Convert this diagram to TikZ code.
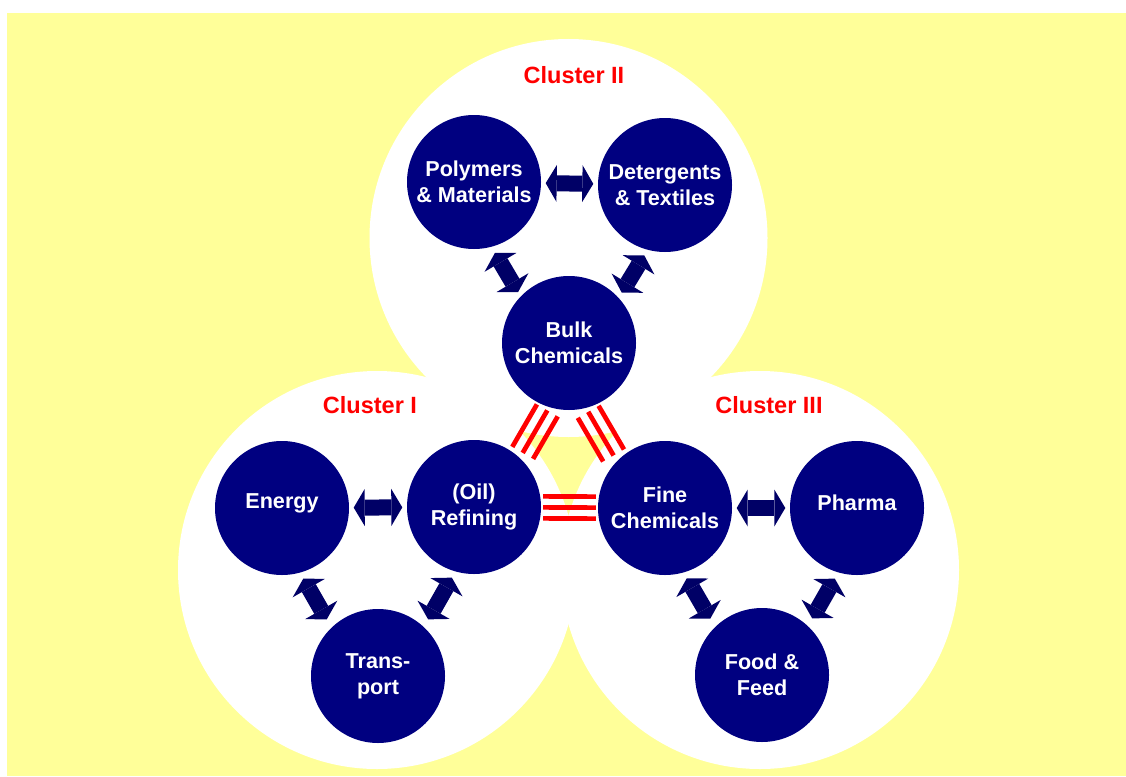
\documentclass[tikz,border=0pt]{standalone}
\usepackage{fontspec}
\setmainfont{Liberation Sans}
\usetikzlibrary{arrows.meta}
\definecolor{bgyellow}{HTML}{FFFF99}
\definecolor{navy}{HTML}{000080}
\definecolor{arrownavy}{HTML}{000066}
\newcommand{\liftup}[1]{\raisebox{5pt}[\height][\depth]{#1}}
\begin{document}
\begin{tikzpicture}[x=1pt,y=-1pt,
 hub/.style={circle, fill=navy, minimum size=134pt, inner sep=0pt, text=white, align=center, font=\bfseries\fontsize{21.6}{26}\selectfont},
 cluster/.style={circle, fill=white, minimum size=398pt, inner sep=0pt},
 clabel/.style={text=red, font=\bfseries\fontsize{23.5}{28}\selectfont},
 fat/.style={draw=arrownavy, line width=16pt, line cap=butt,
   {Triangle[length=11pt,width=37pt,line width=0pt]}-{Triangle[length=11pt,width=37pt,line width=0pt]}},
 bond/.style={draw=red, line width=4.7pt, line cap=butt}
]
\useasboundingbox (0,0) rectangle (1126,776);
\fill[bgyellow] (7,13) rectangle (1126,776);
% big cluster discs
\node[cluster] (c2) at (568.5,238) {};
\node[cluster] (c1) at (377,570) {};
\node[cluster] (c3) at (760,570) {};
% cluster labels
\node[clabel] (l2) at (574,75) {Cluster II};
\node[clabel] (l1) at (370,405) {Cluster I};
\node[clabel] (l3) at (769,405) {Cluster III};
% hubs
\node[hub] (poly) at (474,182) {Polymers\\\& Materials};
\node[hub] (det) at (665,185) {Detergents\\\& Textiles};
\node[hub] (bulk) at (569,343) {Bulk\\Chemicals};
\node[hub] (energy) at (282,508) {\liftup{Energy}};
\node[hub] (ref) at (474,507) {(Oil)\\Refining};
\node[hub] (fine) at (665,508) {Fine\\Chemicals};
\node[hub] (pharma) at (857,508) {\liftup{Pharma}};
\node[hub] (trans) at (378,676) {Trans-\\port};
\node[hub] (food) at (762,675) {Food \&\\Feed};
% horizontal arrows
\draw[fat, shorten <=4.5pt, shorten >=4.5pt] (poly) -- (det);
\draw[fat, shorten <=4.5pt, shorten >=4.5pt] (energy) -- (ref);
\draw[fat, shorten <=4.5pt, shorten >=4.5pt] (fine) -- (pharma);
% diagonal arrows
\draw[fat, shorten <=3.5pt, shorten >=3.5pt, transform canvas={shift={(-15,10)}}] (poly) -- (bulk);
\draw[fat, shorten <=3.5pt, shorten >=3.5pt, transform canvas={shift={(16,10)}}] (det) -- (bulk);
\draw[fat, shorten <=6pt, shorten >=6pt, transform canvas={shift={(-15,7)}}] (energy) -- (trans);
\draw[fat, shorten <=6pt, shorten >=6pt, transform canvas={shift={(14,7)}}] (ref) -- (trans);
\draw[fat, shorten <=6pt, shorten >=6pt, transform canvas={shift={(-15,7)}}] (fine) -- (food);
\draw[fat, shorten <=6pt, shorten >=6pt, transform canvas={shift={(14,7)}}] (pharma) -- (food);
% red triple bonds
\draw[bond, shorten <=2pt, shorten >=4pt, transform canvas={shift={(2.6,1.5)}}] (bulk) -- (ref);
\draw[bond, shorten <=2pt, shorten >=4pt, transform canvas={shift={(13,7.5)}}] (bulk) -- (ref);
\draw[bond, shorten <=2pt, shorten >=4pt, transform canvas={shift={(23.4,13.5)}}] (bulk) -- (ref);
\draw[bond, shorten <=2pt, shorten >=4pt, transform canvas={shift={(-5.2,3)}}] (bulk) -- (fine);
\draw[bond, shorten <=2pt, shorten >=4pt, transform canvas={shift={(-15.6,9)}}] (bulk) -- (fine);
\draw[bond, shorten <=2pt, shorten >=4pt, transform canvas={shift={(-26,15)}}] (bulk) -- (fine);
\draw[bond, shorten <=2pt, shorten >=2pt, transform canvas={shift={(0,-11)}}] (ref) -- (fine);
\draw[bond, shorten <=2pt, shorten >=2pt] (ref) -- (fine);
\draw[bond, shorten <=2pt, shorten >=2pt, transform canvas={shift={(0,11)}}] (ref) -- (fine);
\end{tikzpicture}
\end{document}
